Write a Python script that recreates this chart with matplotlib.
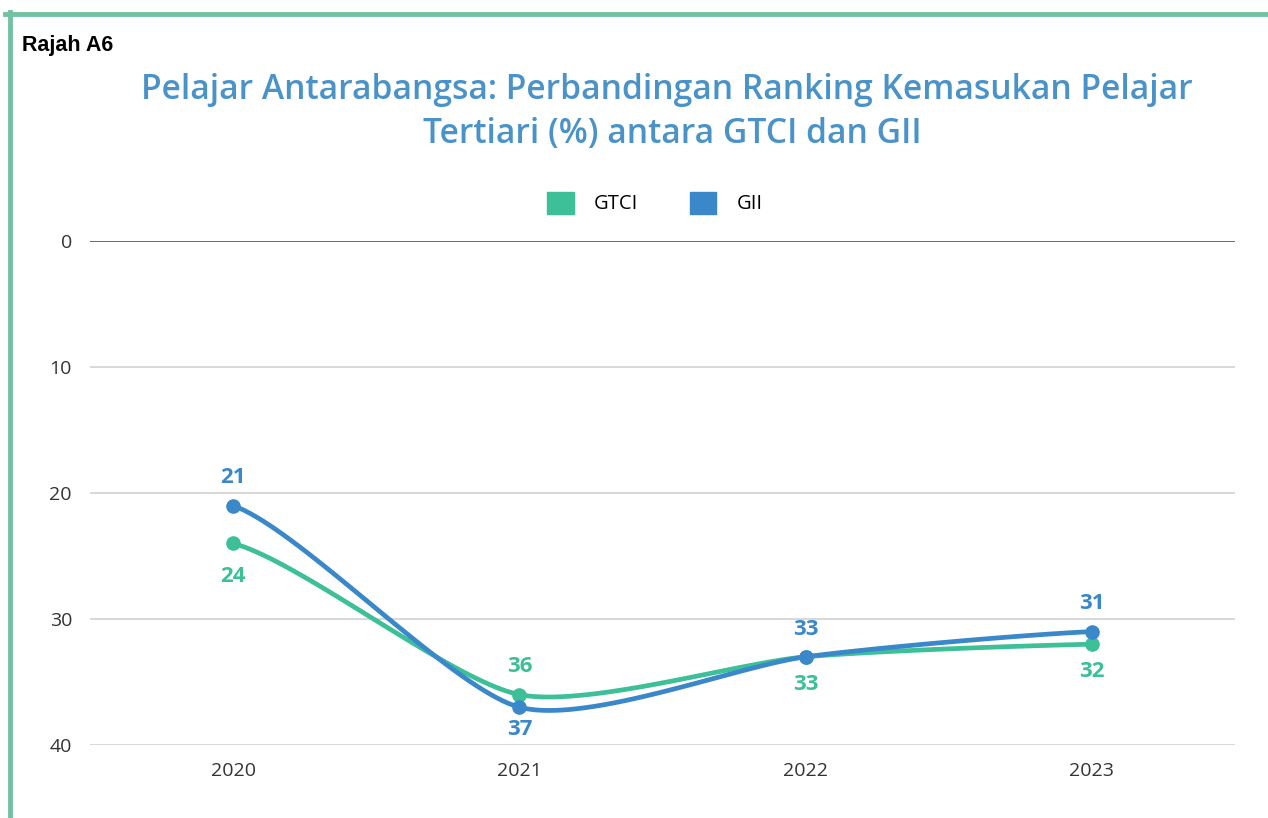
import numpy as np
import matplotlib
matplotlib.use("Agg")
import matplotlib.pyplot as plt
from matplotlib.lines import Line2D
from matplotlib.patches import Patch

years = ["2020", "2021", "2022", "2023"]
gtci = [24, 36, 33, 32]
gii = [21, 37, 33, 31]
yticks = [0, 10, 20, 30, 40]

GREEN = "#3dbf97"
BLUE = "#3a88c9"
TITLE_C = "#4a93c9"

def cardinal(xs, ys, k=0.35, n=40):
    xs = np.asarray(xs, float); ys = np.asarray(ys, float)
    px = np.concatenate([[2*xs[0]-xs[1]], xs, [2*xs[-1]-xs[-2]]])
    py = np.concatenate([[ys[0]], ys, [ys[-1]]])
    ox, oy = [], []
    t = np.linspace(0, 1, n)
    h00 = 2*t**3 - 3*t**2 + 1; h10 = t**3 - 2*t**2 + t
    h01 = -2*t**3 + 3*t**2; h11 = t**3 - t**2
    for i in range(1, len(px)-2):
        for arr, out in ((px, ox), (py, oy)):
            p0, p1, p2, p3 = arr[i-1], arr[i], arr[i+1], arr[i+2]
            m1 = k*(p2-p0); m2 = k*(p3-p1)
            out.extend(h00*p1 + h10*m1 + h01*p2 + h11*m2)
    return np.array(ox), np.array(oy)

fig = plt.figure(figsize=(12.68, 8.18), dpi=100)
ax = fig.add_axes([90/1268, 1-745/818, (1235-90)/1268, (745-241)/818])
ax.set_axisbelow(True)

x = np.arange(len(years))
for vals, col in ((gtci, GREEN), (gii, BLUE)):
    sx, sy = cardinal(x, vals)
    ax.plot(sx, sy, color=col, lw=3.4, solid_capstyle="round", zorder=3)
    ax.plot(x, vals, "o", color=col, ms=9.5, zorder=4)

ax.set_xlim(-0.5, 3.5)
ax.set_ylim(40, 0)
ax.set_yticks(yticks)
ax.set_xticks(x)
ax.set_xticklabels(years)
for s in ax.spines.values():
    s.set_visible(False)
ax.grid(axis="y", color="#d6d6d6", lw=1.3)
ax.axhline(0, color="#5a5a5a", lw=1.2, zorder=2)
ax.tick_params(length=0, labelsize=14, labelcolor="#333333")
ax.tick_params(axis="y", pad=13)
ax.tick_params(axis="x", pad=12)
for lbl in ax.get_yticklabels() + ax.get_xticklabels():
    lbl.set_fontfamily("Open Sans")

# data labels (dy in points, positive = up on screen)
gtci_off = [-24, 20, -20, -20]
gii_off = [20, -16, 20, 20]
for vals, col, offs in ((gtci, GREEN, gtci_off), (gii, BLUE, gii_off)):
    for xi, v, o in zip(x, vals, offs):
        ax.annotate(str(v), (xi, v), xytext=(0, o), textcoords="offset points",
                    ha="center", va="center", color=col, fontsize=16,
                    fontweight="bold", family="Open Sans", zorder=5)

# title
fig.text(667/1268, 1-90/818, "Pelajar Antarabangsa: Perbandingan Ranking Kemasukan Pelajar",
         ha="center", va="center", color=TITLE_C, fontsize=24.2, family="Open Sans",
         fontweight="semibold")
fig.text(672/1268, 1-134/818, "Tertiari (%) antara GTCI dan GII",
         ha="center", va="center", color=TITLE_C, fontsize=24.2, family="Open Sans",
         fontweight="semibold")
fig.text(22/1268, 1-45/818, "Rajah A6", ha="left", va="center", color="black",
         fontsize=15.5, fontweight="bold", family="Liberation Sans")

# legend
handles = [Patch(color=GREEN), Patch(color=BLUE)]
leg = fig.legend(handles, ["GTCI", "GII"], loc="center", bbox_to_anchor=(655/1268, 1-203/818),
                 ncol=2, frameon=False, handlelength=1.3, handleheight=1.3,
                 columnspacing=2.6, handletextpad=1.0,
                 prop={"family": "Open Sans", "size": 14.5})

# border lines
fig.add_artist(Line2D([5/1268, 1], [1-14/818, 1-14/818], color="#72c1a3", lw=3.5))
fig.add_artist(Line2D([10/1268, 10/1268], [0, 1-12/818], color="#72c1a3", lw=3.5))

fig.savefig("out.png", dpi=100, facecolor="white")
